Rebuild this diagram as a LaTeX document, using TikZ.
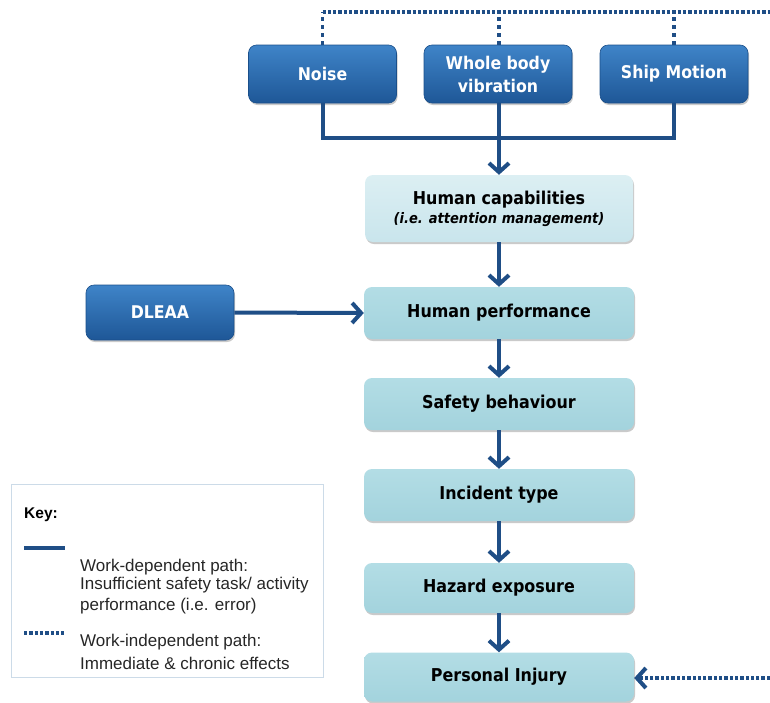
\documentclass[tikz,border=0pt]{standalone}
\usepackage{fontspec}
\setmainfont{Liberation Sans}
\newfontfamily\boxfont{DejaVu Sans Condensed Bold}
\newfontfamily\boxitfont{DejaVu Sans Condensed Bold Oblique}
\usetikzlibrary{arrows.meta,shadows}

\definecolor{darkA}{HTML}{3F84C8}
\definecolor{darkB}{HTML}{1E5797}
\definecolor{darkEdge}{HTML}{1A4F8A}
\definecolor{lightA}{HTML}{B3DDE5}
\definecolor{lightB}{HTML}{A3D3DD}
\definecolor{paleA}{HTML}{DCEFF3}
\definecolor{paleB}{HTML}{C9E5EC}
\definecolor{linecol}{HTML}{1F4E86}
\definecolor{keyframe}{HTML}{CCDBE8}

\tikzset{
  x=1pt, y=-1pt,
  boxbase/.style={rectangle, rounded corners=8pt, inner sep=0pt, align=center,
    drop shadow={shadow xshift=1pt, shadow yshift=-2pt, opacity=0.35, fill=black!60}},
  darkbox/.style={boxbase, top color=darkA, bottom color=darkB, draw=darkEdge,
    line width=0.6pt, text=white, font=\boxfont\fontsize{17.5}{23}\selectfont,
    minimum width=148pt},
  lightbox/.style={boxbase, top color=lightA, bottom color=lightB,
    text=black, font=\boxfont\fontsize{17.7}{22}\selectfont,
    minimum width=270pt},
  palebox/.style={lightbox, top color=paleA, bottom color=paleB},
  tip/.tip={Straight Barb[length=9pt, width=20pt, line width=4pt]},
  conn/.style={draw=linecol, line width=4pt, line join=miter},
  flow/.style={conn, -tip},
  dotline/.style={draw=linecol, line width=3.5pt, dash pattern=on 3.3pt off 2pt},
  dotvert/.style={draw=linecol, line width=3.5pt, dash pattern=on 3.5pt off 4.5pt},
  keytext/.style={anchor=base west, inner sep=0pt, font=\fontsize{17}{20}\selectfont,
    text=black!85}
}

\begin{document}
\begin{tikzpicture}
\useasboundingbox (0,0) rectangle (770,702);

% key panel
\node[draw=keyframe, line width=1pt, minimum width=312pt, minimum height=193pt,
      inner sep=0pt] (key) at (167,580.5) {};
\node[anchor=base west, inner sep=0pt, font=\bfseries\fontsize{15.5}{18}\selectfont]
  (keytitle) at (24,518) {Key:};
\coordinate (ksa) at (24,548);
\coordinate (ksb) at (65,548);
\draw[conn] (ksa) -- (ksb);
\node[keytext] (kd1) at (80,571) {Work-dependent path:};
\node[keytext] (kd2) at (80,589) {Insufficient safety task/ activity};
\node[keytext] (kd3) at (80,610) {performance (i.e. error)};
\coordinate (kda) at (24,633);
\coordinate (kdb) at (66,633);
\draw[dotline] (kda) -- (kdb);
\node[keytext] (ki1) at (80,646) {Work-independent path:};
\node[keytext] (ki2) at (80,669) {Immediate \& chronic effects};

% stressor boxes
\node[darkbox, minimum height=58pt] (noise) at (322.5,74) {Noise};
\node[darkbox, minimum height=58pt] (wbv) at (498,74) {Whole body\\vibration};
\node[darkbox, minimum height=58pt] (ship) at (674,74) {Ship Motion};
\node[darkbox, minimum height=55pt] (dleaa) at (160,312.5) {DLEAA};

% main chain
\node[palebox, minimum height=67pt, minimum width=268pt] (hcap) at (499,208.5)
  {Human capabilities\\[-3pt]{\boxitfont\fontsize{14.5}{17}\selectfont (i.e. attention management)}};
\node[lightbox, minimum height=52pt] (hperf) at (499,313) {Human performance};
\node[lightbox, minimum height=52pt] (safe) at (499,404) {Safety behaviour};
\node[lightbox, minimum height=52pt] (incid) at (499,495) {Incident type};
\node[lightbox, minimum height=50pt] (hazard) at (499,588) {Hazard exposure};
\node[lightbox, minimum height=49pt] (injury) at (499,677) {Personal Injury};

% work-dependent paths
\coordinate (junc) at (499,138);
\draw[conn] (noise.south) |- (junc) -| (ship.south);
\draw[conn] (wbv.south -| junc) -- (junc);
\draw[flow] (junc) -- (hcap.north);
\draw[flow] (hcap.south) -- (hperf.north);
\draw[flow] (dleaa.east) -- (hperf.west);
\draw[flow] (hperf.south) -- (safe.north);
\draw[flow] (safe.south) -- (incid.north);
\draw[flow] (incid.south) -- (hazard.north);
\draw[flow] (hazard.south) -- (injury.north);

% work-independent paths
\coordinate (topR) at (770,12);
\coordinate (sideR) at (770,678);
\draw[dotline] (noise.north |- topR) -- (topR);
\draw[dotvert] (noise.north) -- (noise.north |- topR);
\draw[dotvert] (wbv.north -| junc) -- (junc |- topR);
\draw[dotvert] (ship.north) -- (ship.north |- topR);
\draw[dotline, -tip] (sideR) -- (injury.east |- sideR);
\end{tikzpicture}
\end{document}
